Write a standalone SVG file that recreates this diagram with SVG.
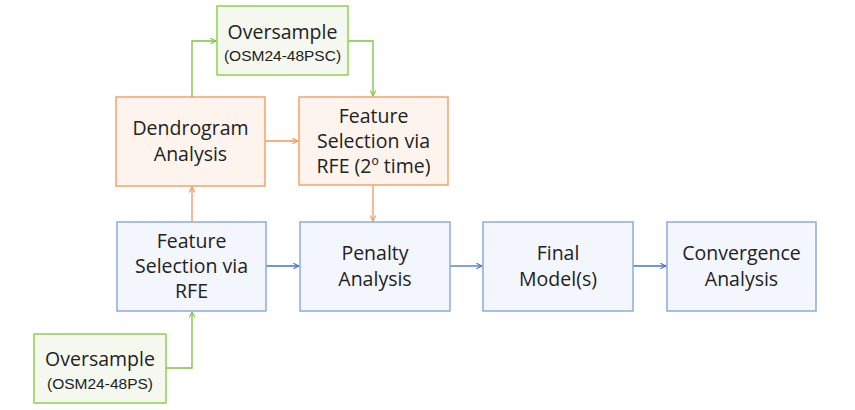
<svg xmlns="http://www.w3.org/2000/svg" width="855" height="410" viewBox="0 0 855 410">
<style>
.b{fill:#f3f6fd;stroke:#8eaadb;stroke-width:1.5}
.o{fill:#fdf4ee;stroke:#f4a26c;stroke-width:1.5}
.g{fill:#f4f8ef;stroke:#8fd14f;stroke-width:1.5}
.t{font-family:"Open Sans","Liberation Sans",sans-serif;font-size:19.5px;fill:#222;text-anchor:middle}
.s{font-family:"Liberation Sans",Arial,sans-serif;font-size:15.5px;fill:#222;text-anchor:middle}
.cb{stroke:#4472c4;stroke-width:1.3;fill:none;marker-end:url(#ab)}
.co{stroke:#f4955a;stroke-width:1.3;fill:none;marker-end:url(#ao)}
.cg{stroke:#7cc443;stroke-width:1.3;fill:none;marker-end:url(#ag)}
</style>
<defs>
<marker id="ab" viewBox="0 0 10 10" refX="9" refY="5" markerWidth="7" markerHeight="7" markerUnits="userSpaceOnUse" orient="auto"><polyline points="1,1 9,5 1,9" fill="none" stroke="#4472c4" stroke-width="1.5"/></marker>
<marker id="ao" viewBox="0 0 10 10" refX="9" refY="5" markerWidth="7" markerHeight="7" markerUnits="userSpaceOnUse" orient="auto"><polyline points="1,1 9,5 1,9" fill="none" stroke="#f4955a" stroke-width="1.5"/></marker>
<marker id="ag" viewBox="0 0 10 10" refX="9" refY="5" markerWidth="7" markerHeight="7" markerUnits="userSpaceOnUse" orient="auto"><polyline points="1,1 9,5 1,9" fill="none" stroke="#7cc443" stroke-width="1.5"/></marker>
</defs>
<g id="connectors">
<polyline class="cg" points="192,97 192,41 216,41"/>
<polyline class="cg" points="348,41 373,41 373,96"/>
<line class="co" x1="265" y1="141" x2="298" y2="141"/>
<line class="co" x1="373" y1="185" x2="373" y2="221"/>
<line class="co" x1="192" y1="222" x2="192" y2="187"/>
<line class="cb" x1="266" y1="266" x2="299" y2="266"/>
<line class="cb" x1="450" y1="266" x2="482" y2="266"/>
<line class="cb" x1="633" y1="266" x2="666" y2="266"/>
<polyline class="cg" points="166,368 192,368 192,312"/>
</g>
<g id="oversample-top">
<rect class="g" x="217" y="6" width="131" height="69"/>
<text class="t" x="282.5" y="39">Oversample</text>
<text class="s" x="282.5" y="61">(OSM24-48PSC)</text>
</g>
<g id="dendrogram">
<rect class="o" x="116" y="97" width="149" height="89"/>
<text class="t" x="190.5" y="135">Dendrogram</text>
<text class="t" x="190.5" y="161">Analysis</text>
</g>
<g id="fs2">
<rect class="o" x="299" y="97" width="149" height="88"/>
<text class="t" x="373.5" y="123">Feature</text>
<text class="t" x="373.5" y="148">Selection via</text>
<text class="t" x="373.5" y="173">RFE (2º time)</text>
</g>
<g id="fs1">
<rect class="b" x="117" y="222" width="149" height="89"/>
<text class="t" x="191.5" y="248">Feature</text>
<text class="t" x="191.5" y="273">Selection via</text>
<text class="t" x="191.5" y="298">RFE</text>
</g>
<g id="penalty">
<rect class="b" x="300" y="222" width="150" height="89"/>
<text class="t" x="375" y="260">Penalty</text>
<text class="t" x="375" y="286">Analysis</text>
</g>
<g id="final">
<rect class="b" x="483" y="222" width="150" height="89"/>
<text class="t" x="558" y="260">Final</text>
<text class="t" x="558" y="286">Model(s)</text>
</g>
<g id="convergence">
<rect class="b" x="667" y="222" width="149" height="89"/>
<text class="t" x="741.5" y="260">Convergence</text>
<text class="t" x="741.5" y="286">Analysis</text>
</g>
<g id="oversample-bottom">
<rect class="g" x="34" y="334" width="132" height="69"/>
<text class="t" x="100" y="366">Oversample</text>
<text class="s" x="100" y="389">(OSM24-48PS)</text>
</g>
</svg>
